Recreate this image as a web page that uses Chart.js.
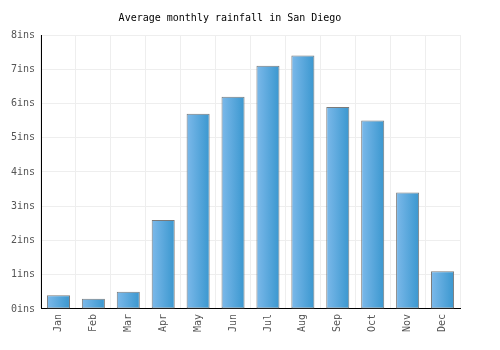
<!DOCTYPE html>
<html>
<head>
<meta charset="utf-8">
<script src="https://cdn.jsdelivr.net/npm/chart.js@4.4.0/dist/chart.umd.min.js"></script>
<style>
  html, body { margin: 0; padding: 0; background: #fff; }
  #wrap { width: 500px; height: 350px; }
</style>
</head>
<body>
<div id="wrap"><canvas id="grafico" width="500" height="350"></canvas></div>
<script>
// datos
const meses = ['Jan', 'Feb', 'Mar', 'Apr', 'May', 'Jun', 'Jul', 'Aug', 'Sep', 'Oct', 'Nov', 'Dec'];
const lluvia = [0.4, 0.3, 0.5, 2.6, 5.7, 6.2, 7.1, 7.4, 5.9, 5.5, 3.4, 1.1];
const titulo = 'Average monthly rainfall in San Diego';

const fuente = "'DejaVu Sans Mono', monospace";

// degradado horizontal para cada barra
function colorBarra(context) {
    const chart = context.chart;
    const x = chart.scales.x;
    if (!x || context.dataIndex === undefined) return '#5aaae0';
    const centro = x.getPixelForValue(context.dataIndex);
    const ancho = (x.width / meses.length) * 0.66;
    if (!isFinite(centro) || !isFinite(ancho) || ancho <= 0) return '#5aaae0';
    const g = chart.ctx.createLinearGradient(centro - ancho / 2, 0, centro + ancho / 2, 0);
    g.addColorStop(0, '#7cb9ea');
    g.addColorStop(1, '#3a97cf');
    return g;
}

const ctx = document.getElementById('grafico').getContext('2d');
window.chart = new Chart(ctx, {
    type: 'bar',
    data: {
        labels: meses,
        datasets: [{
            label: 'Rainfall',
            data: lluvia,
            backgroundColor: colorBarra,
            borderColor: '#7a7a7a',
            borderWidth: 1,
            borderSkipped: false,
            barPercentage: 0.66,
            categoryPercentage: 1
        }]
    },
    options: {
        responsive: false,
        animation: false,
        layout: { padding: { left: 0, right: 40, top: 0, bottom: 13 } },
        plugins: {
            legend: { display: false },
            tooltip: { enabled: false },
            title: {
                display: true,
                text: titulo,
                color: '#000',
                font: { family: fuente, size: 10, weight: 'normal' },
                padding: { top: 12, bottom: 11 }
            }
        },
        scales: {
            x: {
                grid: { color: '#eeeeee', offset: true, drawTicks: false },
                border: { color: '#000', width: 1 },
                ticks: {
                    color: '#555',
                    font: { family: fuente, size: 10 },
                    minRotation: 90,
                    maxRotation: 90,
                    padding: 5
                }
            },
            y: {
                min: 0,
                max: 8,
                grid: { color: '#eeeeee', drawTicks: false },
                border: { color: '#000', width: 1 },
                ticks: {
                    stepSize: 1,
                    color: '#555',
                    font: { family: fuente, size: 10 },
                    padding: 6,
                    callback: v => v + 'ins'
                },
                afterFit: s => { s.width = 41; }
            }
        }
    }
});
chart.update();
</script>
</body>
</html>
